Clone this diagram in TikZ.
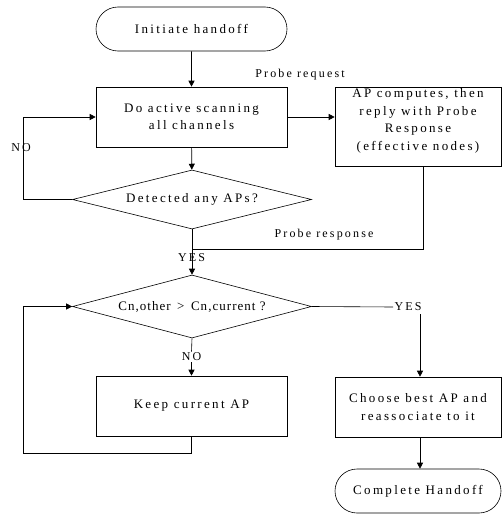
\documentclass[tikz,border=0pt]{standalone}
\usepackage{fontspec}
\setmainfont{Liberation Serif}[LetterSpace=18]
\newfontfamily\tightfont{Liberation Serif}[LetterSpace=8]
\usetikzlibrary{shapes.misc,shapes.geometric,arrows.meta}
\begin{document}
\begin{tikzpicture}[x=1pt,y=-1pt,
  line width=0.6pt,
  every node/.style={font=\fontsize{13}{17.5}\selectfont},
  box/.style={draw, rectangle, inner sep=0pt, align=center},
  term/.style={draw, rounded rectangle, inner sep=0pt},
  dec/.style={draw, diamond, aspect=4, inner sep=0pt},
  lab/.style={font=\fontsize{12}{14}\selectfont, inner sep=1pt},
  arr/.style={-{Triangle[length=6pt,width=6pt]}}]
\useasboundingbox (0,0) rectangle (502,514);

\node[term, minimum width=191pt, minimum height=44pt] (init) at (191.5,29) {Initiate handoff};
\node[box, minimum width=191pt, minimum height=60pt] (scan) at (191.5,117) {Do active scanning\\all channels};
\node[box, minimum width=166pt, minimum height=79pt] (ap) at (418,126.5) {};
\node[align=center, inner sep=0pt] (aptxt) at (418,121) {AP computes, then\\reply with Probe\\Response\\(effective nodes)};
\node[dec, minimum width=239pt, minimum height=59pt] (det) at (192,199.5) {Detected any APs?};
\node[dec, minimum width=239pt, minimum height=63pt, font=\tightfont\fontsize{13}{17}\selectfont] (cmp) at (192,306.5) {Cn,other \,>\, Cn,current ?};
\node[box, minimum width=191pt, minimum height=60pt] (keep) at (191.5,406) {Keep current AP};
\node[box, minimum width=166pt, minimum height=60pt] (best) at (418,407) {Choose best AP and\\reassociate to it};
\node[term, minimum width=166pt, minimum height=44pt] (done) at (418,491) {Complete Handoff};

\node[lab] (preq) at (300,75) {Probe request};
\node[lab] (presp) at (324,235) {Probe response};
\node[lab, fill=white] (no1) at (21,148) {NO};
\node[lab] (yes1) at (191.5,258) {YES};
\node[lab] (yes2) at (408,307) {YES};
\node[lab] (no2) at (191.5,357) {NO};

\coordinate (nl) at (23,0);
\coordinate (pr) at (423,249);
\coordinate (yc) at (420,314);
\coordinate (kl) at (23,453);

\draw[arr] (init) -- (scan);
\draw[arr] (scan.east) -- (scan.east -| ap.west);
\draw[arr] (scan) -- (det);
\draw[arr] (det.west) -- (det.west -| nl) |- (scan.west);
\draw (ap.south -| pr) -- (pr) -- (pr -| det.south);
\draw[arr] (det.south) -- (cmp.north);
\draw (cmp.east) -- (yes2.west);
\draw[arr] (yc) -- (yc |- best.north);
\draw (cmp.south) -- (no2.north);
\draw[arr] (no2.south) -- (keep.north);
\draw[arr] (keep.south) |- (kl) |- (cmp.west);
\draw[arr] (best.south -| yc) -- (done.north -| yc);
\end{tikzpicture}
\end{document}
